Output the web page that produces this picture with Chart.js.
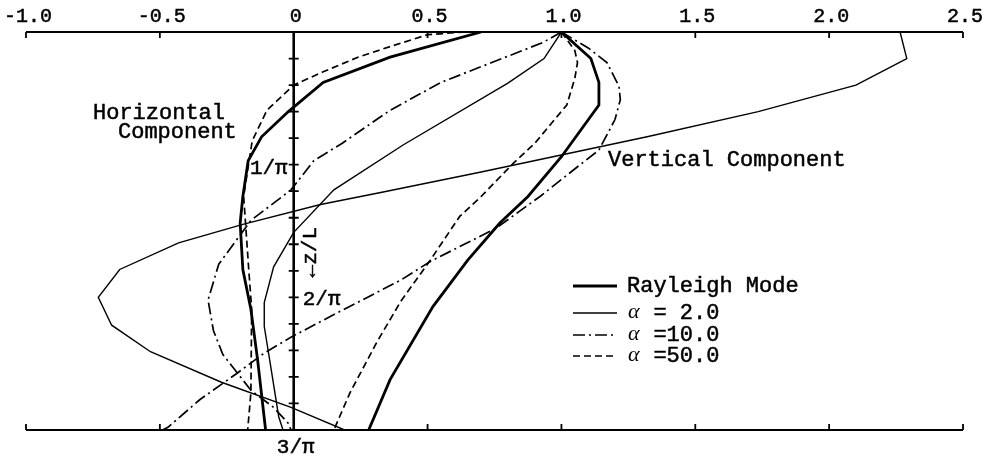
<!DOCTYPE html>
<html>
<head>
<meta charset="utf-8">
<script src="https://cdn.jsdelivr.net/npm/chart.js@4.4.0/dist/chart.umd.min.js"></script>
<style>
  html, body { margin: 0; padding: 0; background: #fff; }
</style>
</head>
<body>
<canvas id="modes" width="993" height="459"></canvas>
<script>
// amplitude axis (top and bottom)
const ampTicks = [-1.0, -0.5, 0, 0.5, 1.0, 1.5, 2.0, 2.5];
const ampLabels = ['-1.0', '-0.5', '0', '0.5', '1.0', '1.5', '2.0', '2.5'];

// depth axis, z/L in units of 1/π
const depthMinorStep = 0.2;
const depthMajor = [1, 2, 3];
const depthLabels = ['1/π', '2/π', '3/π'];

// curves as [amplitude, z/L * π]
const rayleighH = [[0.70, 0], [0.36, 0.19], [0.11, 0.38], [-0.02, 0.60], [-0.12, 0.79], [-0.17, 0.97],
  [-0.19, 1.24], [-0.20, 1.44], [-0.19, 1.79], [-0.16, 2.09], [-0.135, 2.47], [-0.105, 3.0]];
const alpha2H = [[1.0, 0], [0.935, 0.20], [0.80, 0.385], [0.41, 0.85], [0.15, 1.19], [0.0, 1.51],
  [-0.075, 1.77], [-0.11, 2.04], [-0.11, 2.22], [-0.09, 2.47], [-0.056, 2.90], [-0.04, 3.0]];
const alpha10H = [[1.0, 0], [0.93, 0.08], [0.74, 0.23], [0.55, 0.38], [0.36, 0.59], [0.18, 0.84],
  [0.075, 0.97], [-0.01, 1.19], [-0.16, 1.42], [-0.28, 1.75], [-0.32, 2.02], [-0.30, 2.25],
  [-0.265, 2.43], [-0.16, 2.70], [-0.075, 2.83], [-0.02, 2.95], [-0.01, 3.0]];
const alpha50H = [[0.64, 0], [0.50, 0.02], [0.36, 0.11], [0.24, 0.19], [0.11, 0.30], [0.0, 0.40],
  [-0.10, 0.59], [-0.155, 0.82], [-0.172, 1.04], [-0.187, 1.24], [-0.18, 1.44], [-0.168, 1.79],
  [-0.157, 2.09], [-0.16, 2.72], [-0.172, 3.0]];

const rayleighV = [[1.0, 0], [1.11, 0.20], [1.14, 0.38], [1.14, 0.55], [1.0, 0.94], [0.875, 1.24],
  [0.77, 1.44], [0.65, 1.72], [0.52, 2.07], [0.36, 2.62], [0.28, 3.0]];
const alpha2V = [[2.265, 0], [2.29, 0.20], [2.10, 0.40], [1.735, 0.60], [1.32, 0.79], [0.70, 1.055],
  [0.325, 1.21], [0.10, 1.30], [-0.19, 1.45], [-0.43, 1.59], [-0.65, 1.79], [-0.73, 2.0],
  [-0.68, 2.21], [-0.535, 2.41], [-0.27, 2.64], [-0.01, 2.83], [0.19, 3.0]];
const alpha10V = [[1.0, 0], [1.10, 0.12], [1.17, 0.23], [1.215, 0.41], [1.22, 0.51], [1.20, 0.66],
  [1.14, 0.89], [1.07, 1.0], [0.92, 1.24], [0.755, 1.48], [0.51, 1.73], [0.40, 1.87], [0.16, 2.12],
  [-0.01, 2.30], [-0.11, 2.42], [-0.21, 2.57], [-0.35, 2.77], [-0.47, 2.98], [-0.49, 3.0]];
const alpha50V = [[1.0, 0], [1.05, 0.14], [1.06, 0.23], [1.05, 0.35], [1.02, 0.55], [0.90, 0.84],
  [0.82, 0.99], [0.70, 1.24], [0.62, 1.39], [0.51, 1.72], [0.40, 2.03], [0.31, 2.34], [0.21, 2.72],
  [0.15, 3.0]];

const legendNames = ['Rayleigh Mode', '= 2.0', '=10.0', '=50.0'];
const legendRows = [286, 313, 335, 356];

const MONO = '"Liberation Mono", "DejaVu Sans Mono", monospace';

// line style for each family
const styles = [
  { width: 2.8, dash: [] },            // Rayleigh
  { width: 1.4, dash: [] },            // a = 2
  { width: 1.7, dash: [12, 4, 2, 4] }, // a = 10
  { width: 1.7, dash: [7, 4] }         // a = 50
];

function toPoints(arr) {
  return arr.map(p => ({ x: p[0], y: p[1] }));
}

function makeSet(label, arr, style) {
  return {
    label: label,
    data: toPoints(arr),
    showLine: true,
    borderColor: '#000',
    backgroundColor: '#000',
    borderWidth: style.width,
    borderDash: style.dash,
    pointRadius: 0,
    tension: 0,
    fill: false
  };
}

// typewriter text comes out a bit heavier than the plain font
function heavyText(ctx, str, x, y) {
  ctx.fillText(str, x, y);
  ctx.lineWidth = 0.5;
  ctx.strokeText(str, x, y);
}

const frame = {
  id: 'frame',
  afterDraw(chart) {
    const ctx = chart.ctx;
    const xs = chart.scales.x;
    const ys = chart.scales.y;
    const top = ys.getPixelForValue(0);
    const bottom = ys.getPixelForValue(3);
    const left = xs.getPixelForValue(-1);
    const right = xs.getPixelForValue(2.5);
    const x0 = xs.getPixelForValue(0);

    ctx.save();
    ctx.strokeStyle = '#000';
    ctx.fillStyle = '#000';
    ctx.setLineDash([]);

    // top and bottom amplitude axes
    ctx.lineWidth = 1.8;
    ctx.beginPath();
    ctx.moveTo(left, top); ctx.lineTo(right, top);
    ctx.moveTo(left, bottom); ctx.lineTo(right, bottom);
    ampTicks.forEach(v => {
      if (v === 0) return;
      const px = xs.getPixelForValue(v);
      ctx.moveTo(px, top); ctx.lineTo(px, top + 6);
      ctx.moveTo(px, bottom); ctx.lineTo(px, bottom - 6);
    });
    ctx.stroke();

    ctx.font = '20px ' + MONO;
    ctx.textAlign = 'center';
    ctx.textBaseline = 'middle';
    ampTicks.forEach((v, i) => {
      heavyText(ctx, ampLabels[i], xs.getPixelForValue(v) + 2, top - 15);
    });

    // depth axis through zero
    ctx.lineWidth = 2.6;
    ctx.beginPath();
    ctx.moveTo(x0, top); ctx.lineTo(x0, bottom);
    ctx.stroke();
    ctx.lineWidth = 1.8;
    ctx.beginPath();
    for (let d = depthMinorStep; d < 3; d += depthMinorStep) {
      const py = ys.getPixelForValue(d);
      ctx.moveTo(x0 - 5, py); ctx.lineTo(x0 + 5, py);
    }
    ctx.stroke();

    ctx.font = '21px ' + MONO;
    ctx.textAlign = 'right';
    heavyText(ctx, depthLabels[0], x0 - 6, ys.getPixelForValue(depthMajor[0]) + 4);
    ctx.textAlign = 'left';
    heavyText(ctx, depthLabels[1], x0 + 9, ys.getPixelForValue(depthMajor[1]) + 2);
    ctx.textAlign = 'center';
    heavyText(ctx, depthLabels[2], x0 + 2, bottom + 17);

    // axis name, turned to run down the axis
    ctx.save();
    ctx.translate(x0 + 17, ys.getPixelForValue(1.66));
    ctx.rotate(-Math.PI / 2);
    ctx.textAlign = 'center';
    heavyText(ctx, '←z/L', 0, 0);
    ctx.restore();

    // component names
    ctx.font = '22px ' + MONO;
    ctx.textAlign = 'left';
    heavyText(ctx, 'Horizontal', 93, 113);
    heavyText(ctx, 'Component', 118, 132);
    heavyText(ctx, 'Vertical Component', 608, 160);

    // key
    legendNames.forEach((name, i) => {
      const y = legendRows[i];
      ctx.lineWidth = styles[i].width;
      ctx.setLineDash(styles[i].dash);
      ctx.beginPath();
      ctx.moveTo(573, y); ctx.lineTo(617, y);
      ctx.stroke();
      ctx.setLineDash([]);
      ctx.font = '22px ' + MONO;
      if (i === 0) {
        heavyText(ctx, name, 627, y);
      } else {
        const cw = ctx.measureText('0').width;
        heavyText(ctx, name, 627 + cw * 2, y);
        ctx.font = 'italic 22px "Liberation Serif", "DejaVu Serif", serif';
        ctx.fillText('α', 628, y - 1);
      }
    });

    ctx.restore();
  }
};

new Chart(document.getElementById('modes').getContext('2d'), {
  type: 'scatter',
  data: {
    datasets: [
      makeSet('Rayleigh horizontal', rayleighH, styles[0]),
      makeSet('a=2 horizontal', alpha2H, styles[1]),
      makeSet('a=10 horizontal', alpha10H, styles[2]),
      makeSet('a=50 horizontal', alpha50H, styles[3]),
      makeSet('Rayleigh vertical', rayleighV, styles[0]),
      makeSet('a=2 vertical', alpha2V, styles[1]),
      makeSet('a=10 vertical', alpha10V, styles[2]),
      makeSet('a=50 vertical', alpha50V, styles[3])
    ]
  },
  options: {
    responsive: false,
    devicePixelRatio: 1,
    animation: false,
    layout: { padding: { left: 26, right: 30, top: 32, bottom: 29 } },
    plugins: { legend: { display: false }, tooltip: { enabled: false } },
    scales: {
      x: { type: 'linear', min: -1, max: 2.5, display: false },
      y: { type: 'linear', min: 0, max: 3, reverse: true, display: false }
    }
  },
  plugins: [frame]
});
</script>
</body>
</html>
